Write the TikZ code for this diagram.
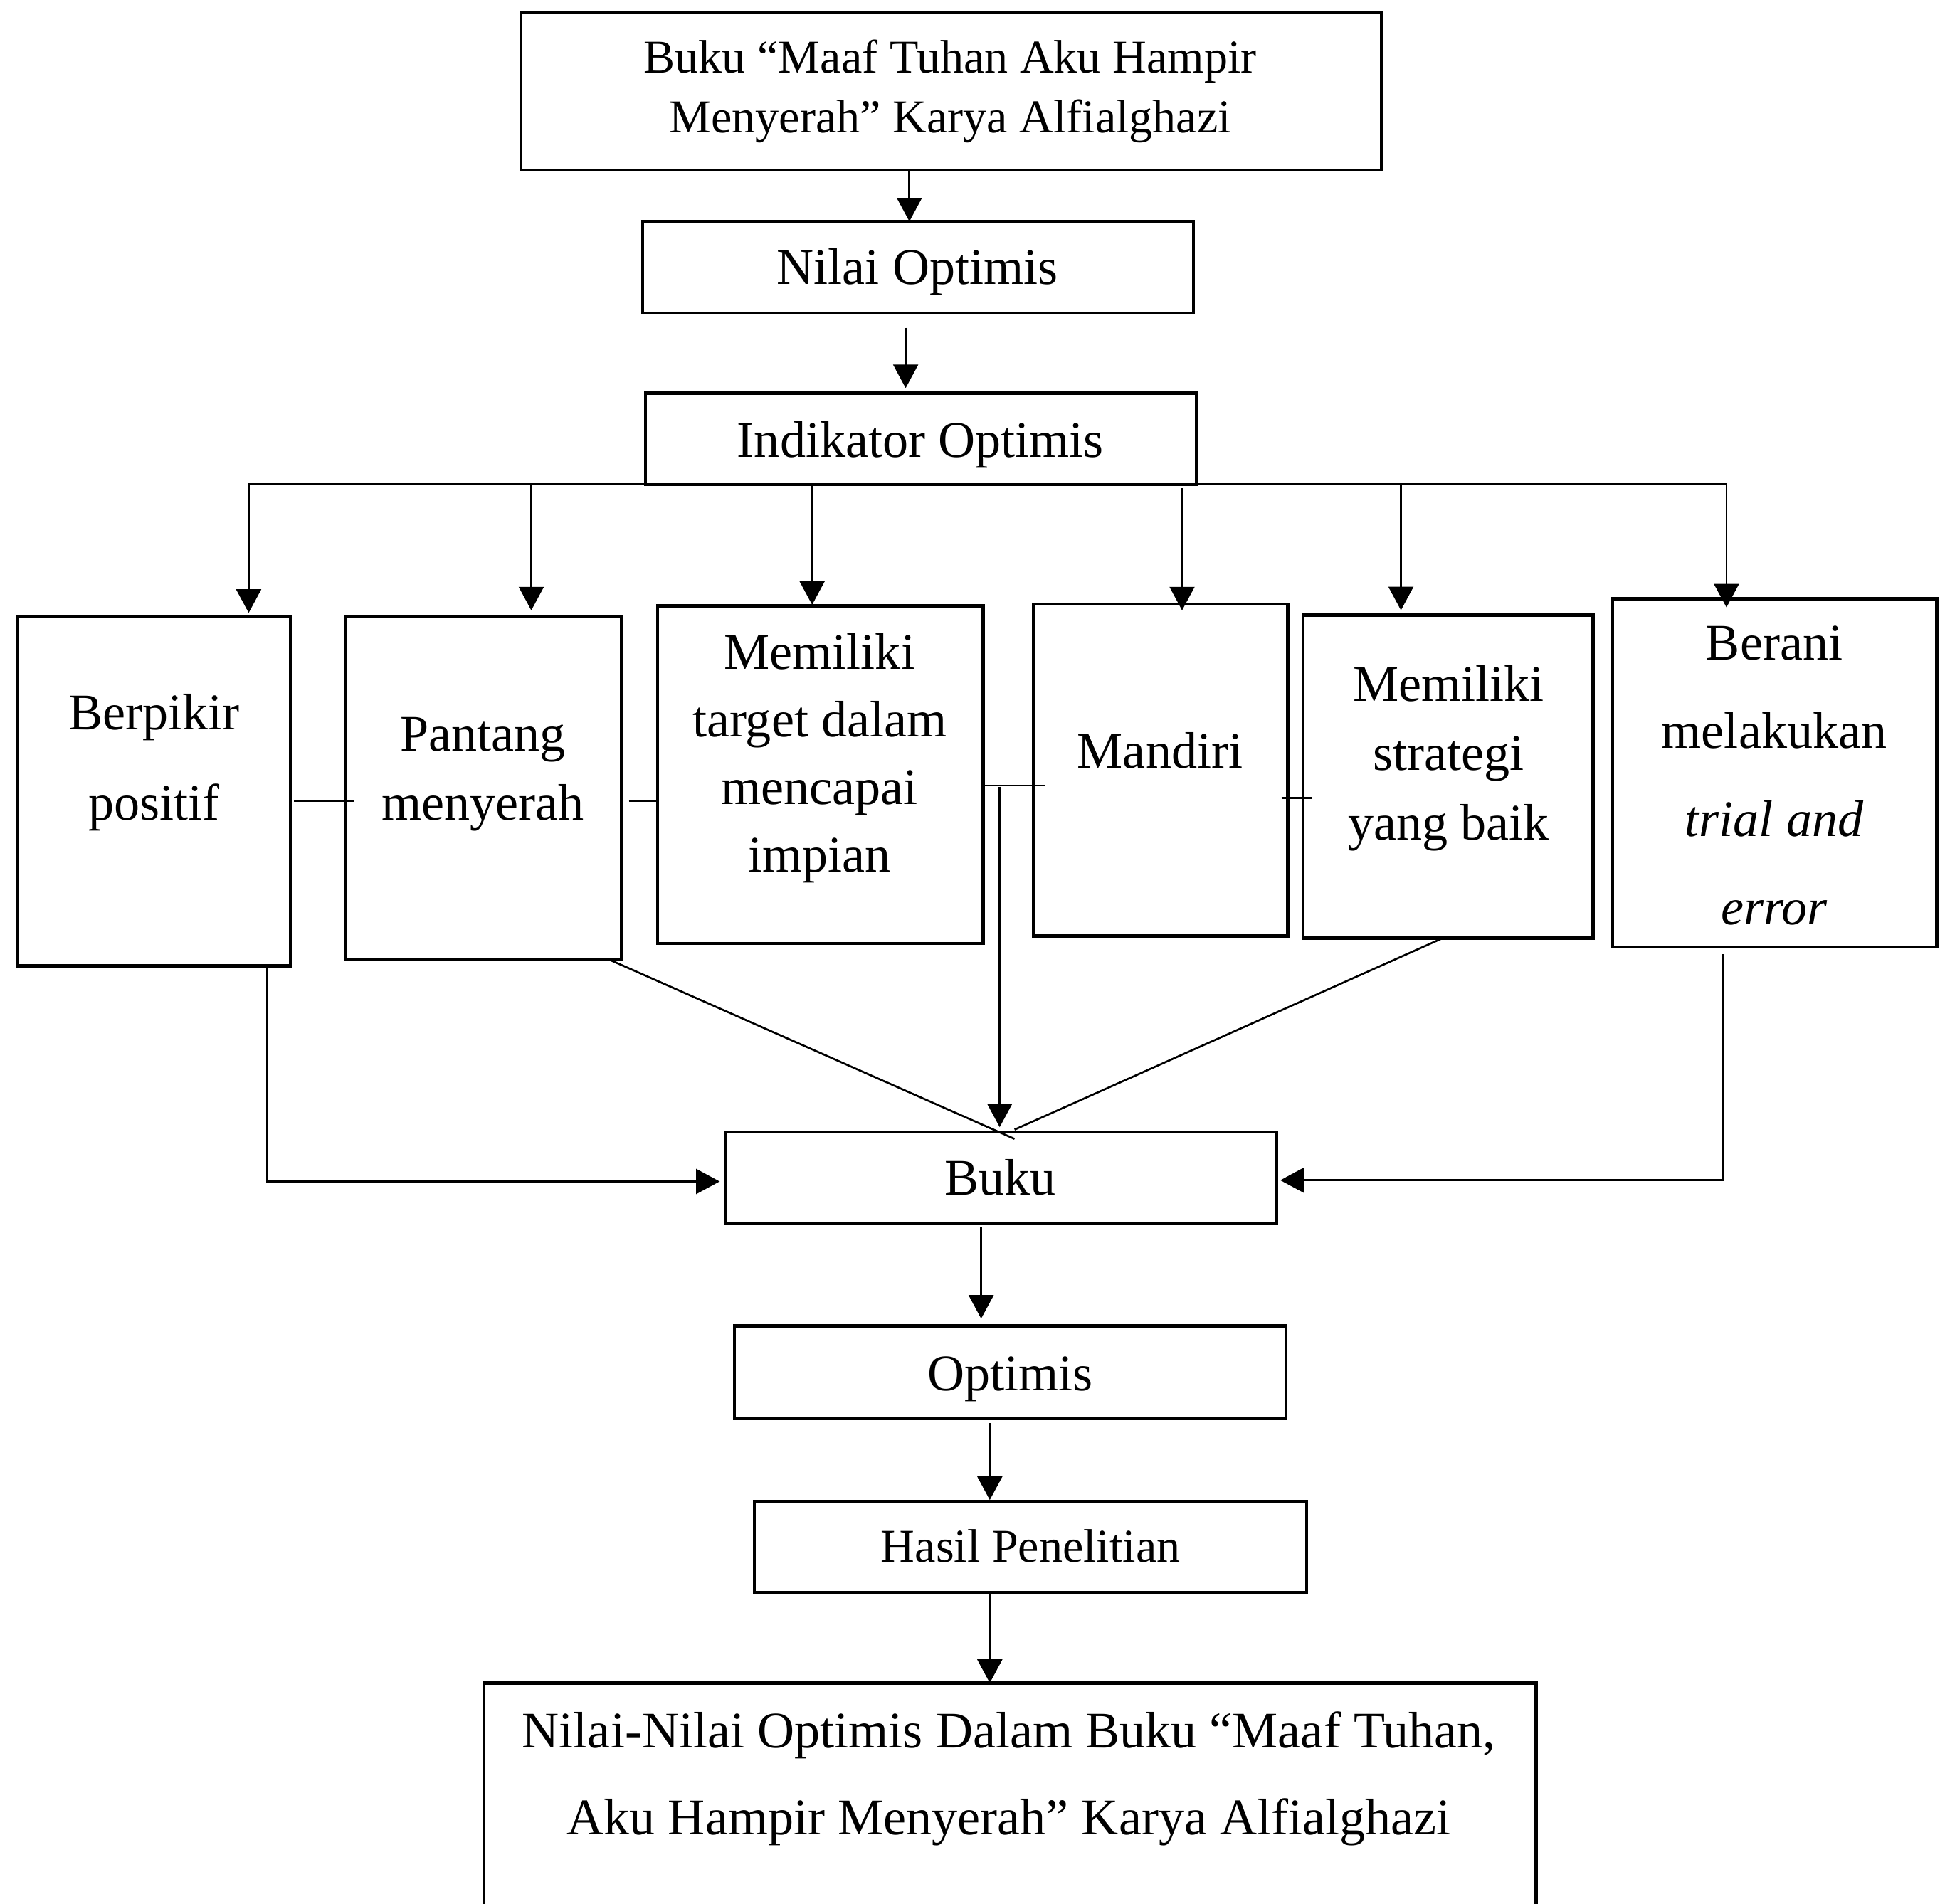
\documentclass[tikz,border=0pt]{standalone}
\usepackage{fontspec}
\setmainfont{Liberation Serif}
\usetikzlibrary{arrows.meta,fit,calc}
\newcommand\mlt[3]{\fontsize{#1}{#2}\selectfont\begin{tabular}[t]{@{}c@{}}#3\end{tabular}}
\begin{document}
\begin{tikzpicture}[x=0.28916pt,y=-0.28916pt,
  box/.style={draw, line width=0.75pt, inner sep=0pt, outer sep=0pt},
  con/.style={line width=0.45pt},
  arr/.style={con,-{Triangle[length=5.5pt,width=5.8pt]}},
  txt/.style={anchor=base, inner sep=0pt, font=\fontsize{12}{14}\selectfont},
  txts/.style={anchor=base, inner sep=0pt, font=\fontsize{11}{14}\selectfont}]
\useasboundingbox (0,0) rectangle (1568,1539);

% boxes
\node[box, fit={(421,9.7) (1116.5,137.4)}] (top) {};
\node[box, fit={(519.5,179) (964.7,253)}] (nilai) {};
\node[box, fit={(521.7,317.7) (967,391.6)}] (indik) {};
\node[box, fit={(14.4,498.4) (234.7,780.9)}] (b1) {};
\node[box, fit={(278.9,498.4) (502.2,776)}] (b2) {};
\node[box, fit={(531.5,489.9) (794.5,762.8)}] (b3) {};
\node[box, fit={(835.1,488.4) (1040.7,756.8)}] (b4) {};
\node[box, fit={(1053.3,497.3) (1287.6,758.4)}] (b5) {};
\node[box, fit={(1303.3,484) (1565.4,765.6)}] (b6) {};
\node[box, fit={(586.7,915.2) (1031.8,989)}] (buku) {};
\node[box, fit={(593.7,1072) (1039.5,1146.6)}] (opt) {};
\node[box, fit={(609.8,1213.6) (1056,1287.5)}] (hasil) {};
\node[inner sep=0pt, outer sep=0pt, fit={(391,1360.5) (1241.6,1545)}] (fin) {};
\draw[line width=0.75pt] (fin.south west) -- (fin.north west) -- (fin.north east) -- (fin.south east);

% texts
\node[txts] (ttop) at (768,59) {\mlt{11}{14}{Buku “Maaf Tuhan Aku Hampir\\Menyerah” Karya Alfialghazi}};
\node[txt] (tnilai) at (741.5,229.9) {Nilai Optimis};
\node[txt] (tindik) at (744,369.8) {Indikator Optimis};
\node[txt] (t1) at (124.5,590) {\mlt{12}{21.1}{Berpikir\\positif}};
\node[txt] (t2) at (390.3,607) {\mlt{12}{16.2}{Pantang\\menyerah}};
\node[txt] (t3) at (662.5,540.7) {\mlt{12}{15.85}{Memiliki\\target dalam\\mencapai\\impian}};
\node[txt] (t4) at (937.6,621) {Mandiri};
\node[txt] (t5) at (1170.7,566.7) {\mlt{12}{16.2}{Memiliki\\strategi\\yang baik}};
\node[txt] (t6) at (1434,533.7) {\mlt{12}{20.6}{Berani\\melakukan\\\textit{trial and}\\\textit{error}}};
\node[txt] (tbuku) at (808.6,966) {Buku};
\node[txt] (topt) at (816.5,1124) {Optimis};
\node[txts] (thasil) at (833,1263) {Hasil Penelitian};
\node[txt] (tfin) at (815.5,1413) {\mlt{12}{20.24}{Nilai-Nilai Optimis Dalam Buku “Maaf Tuhan,\\Aku Hampir Menyerah” Karya Alfialghazi}};

% helper coordinates
\coordinate (c201) at (201,0);
\coordinate (c216) at (216,0);
\coordinate (c429) at (429.4,0);
\coordinate (c493) at (493,0);
\coordinate (c656) at (656.4,0);
\coordinate (c732) at (732,0);
\coordinate (c735) at (735,0);
\coordinate (c793) at (793,0);
\coordinate (c800) at (800,0);
\coordinate (c820) at (820,0);
\coordinate (c955) at (955.4,0);
\coordinate (c1132) at (1132.3,0);
\coordinate (c1166) at (1166,0);
\coordinate (c1392) at (1392.3,0);
\coordinate (c1395) at (1395.4,0);
\coordinate (r635) at (0,635);
\coordinate (r645) at (0,645);
\coordinate (r647) at (0,647.7);
\coordinate (j) at (808,636);

% connectors
\draw[arr] (top.south -| c735) -- (nilai.north -| c735);
\draw[arr] ($(nilai.south -| c732)+(0,12)$) -- ($(indik.north -| c732)+(0,-4)$);
\draw[con] (indik.south -| c201) -- (indik.south -| c1395);
\draw[arr] (indik.south -| c201) -- ($(b1.north -| c201)+(0,-3)$);
\draw[arr] (indik.south -| c429) -- ($(b2.north -| c429)+(0,-5)$);
\draw[arr] (indik.south -| c656) -- ($(b3.north -| c656)+(0,-1)$);
\draw[arr] ($(indik.south -| c955)+(0,3)$) -- ($(b4.north -| c955)+(0,5)$);
\draw[arr] (indik.south -| c1132) -- ($(b5.north -| c1132)+(0,-4)$);
\draw[arr] (indik.south -| c1395) -- ($(b6.north -| c1395)+(0,7)$);

\draw[con] ($(b1.east |- r647)+(3,0)$) -- ($(b2.west |- r647)+(7,0)$);
\draw[con] ($(b2.east |- r647)+(6,0)$) -- (b3.west |- r647);
\draw[con] (b3.east |- r635) -- ($(b4.west |- r635)+(10,0)$);
\draw[con] ($(b4.east |- r645)+(-5,0)$) -- ($(b5.west |- r645)+(7,0)$);
\draw[arr] (j) -- ($(buku.north -| j)+(0,-4)$);

\draw[con] (b2.south -| c493) -- ($(buku.north -| c820)+(0,5.5)$);
\draw[con] (b5.south -| c1166) -- ($(buku.north -| c820)+(0,-2)$);
\draw[arr] (b1.south -| c216) |- ($(buku.west)+(-5,3)$);
\draw[arr] ($(b6.south -| c1392)+(0,6)$) |- ($(buku.east)+(3,2)$);

\draw[arr] ($(buku.south -| c793)+(0,3)$) -- ($(opt.north -| c793)+(0,-6)$);
\draw[arr] ($(opt.south -| c800)+(0,4)$) -- ($(hasil.north -| c800)+(0,-1)$);
\draw[arr] (hasil.south -| c800) -- (fin.north -| c800);
\end{tikzpicture}
\end{document}
